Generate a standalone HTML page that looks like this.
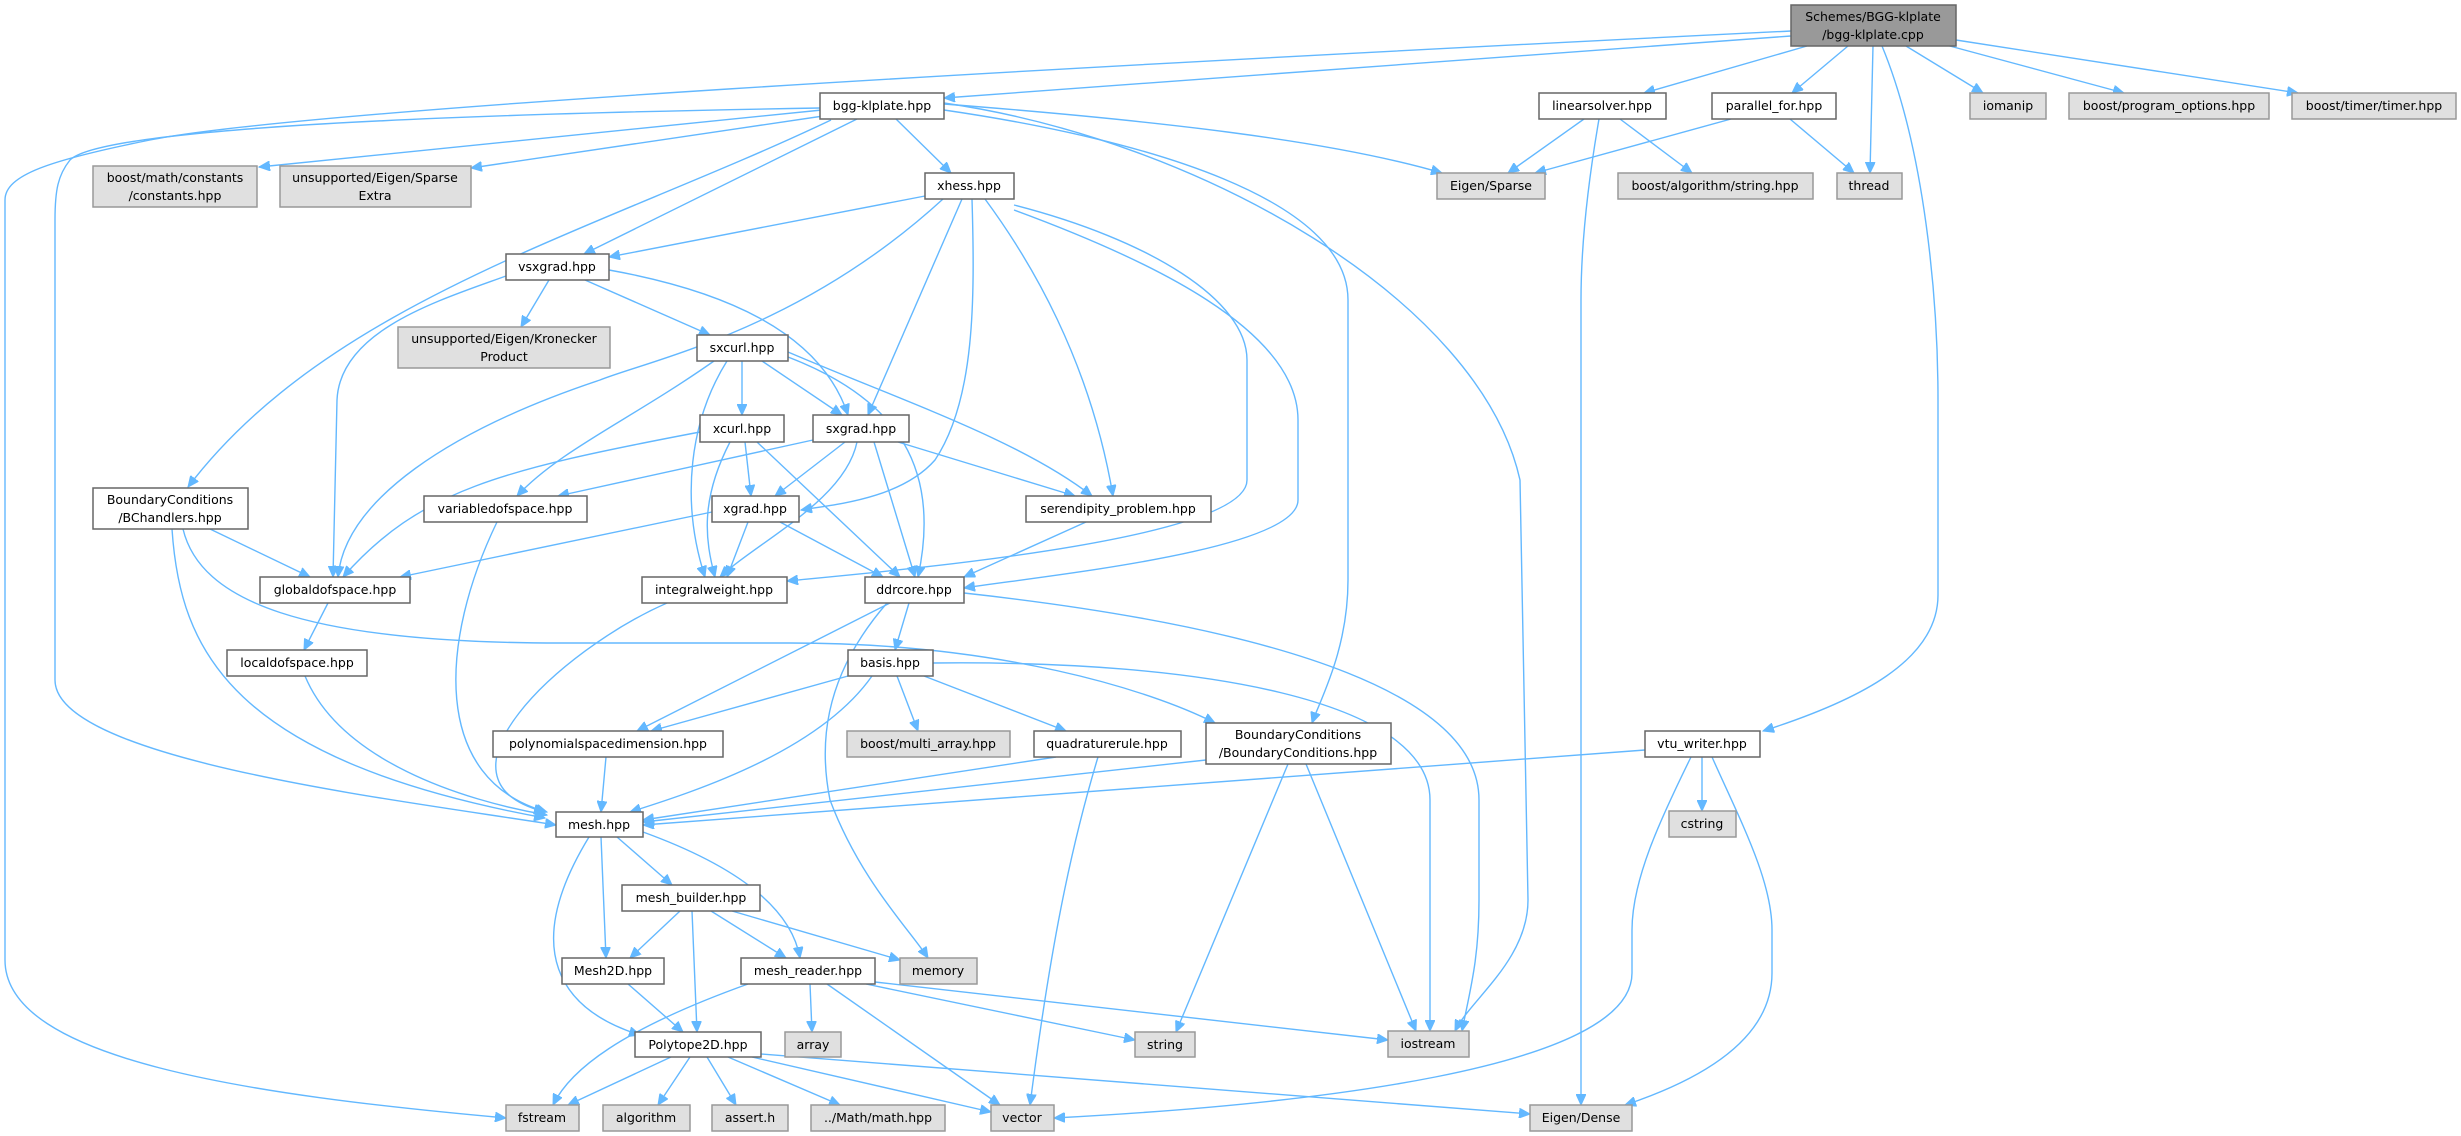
<!DOCTYPE html>
<html><head><meta charset="utf-8">
<style>
html,body{margin:0;padding:0;background:#fff;}
svg{display:block;}
text{font-family:"DejaVu Sans","Liberation Sans",sans-serif;font-size:12.5px;fill:#000;text-anchor:middle;}
.w{fill:#fff;stroke:#666;stroke-width:1.5;}
.g{fill:#e0e0e0;stroke:#999;stroke-width:1.5;}
.r{fill:#999;stroke:#666;stroke-width:1.5;}
path{fill:none;stroke:#63b8ff;stroke-width:1.4;}
</style></head><body>
<svg width="2461" height="1136" viewBox="0 0 2461 1136" xmlns="http://www.w3.org/2000/svg">
<defs><marker id="a" markerUnits="userSpaceOnUse" markerWidth="12" markerHeight="10" refX="11" refY="5" orient="auto"><path d="M0,0 L11,5 L0,10 Z" style="fill:#63b8ff;stroke:#63b8ff;stroke-width:1"/></marker></defs>
<g marker-end="url(#a)">
<path d="M1791,31 C1000,70 300,110 150,140 C50,160 5,175 5,200 L5,960 C5,1060 250,1095 506,1118"/>
<path d="M1791,36 L944,98"/>
<path d="M1807,46 L1644,93"/>
<path d="M1848,46 L1792,93"/>
<path d="M1873,46 L1870,173"/>
<path d="M1906,46 L1983,93"/>
<path d="M1946,45 L2124,93"/>
<path d="M1956,40 L2298,93"/>
<path d="M1882,46 C1925,150 1938,300 1938,400 L1938,595 C1938,660 1860,700 1763,731"/>
<path d="M822,110 L259,167"/>
<path d="M830,115 L471,168"/>
<path d="M820,108 C400,115 100,130 70,160 C58,175 55,190 55,220 L55,680 C55,760 400,800 556,825"/>
<path d="M831,120 C600,230 330,300 188,487"/>
<path d="M857,119 L584,254"/>
<path d="M896,119 L951,173"/>
<path d="M944,104 C1150,120 1330,140 1442,173"/>
<path d="M944,110 C1150,140 1348,200 1348,300 L1348,580 C1348,650 1320,700 1312,723"/>
<path d="M944,103 C1200,140 1480,300 1520,480 L1528,900 C1528,960 1470,1000 1455,1031"/>
<path d="M1584,119 L1508,173"/>
<path d="M1620,119 L1692,173"/>
<path d="M1599,119 C1585,200 1581,260 1581,300 L1581,1105"/>
<path d="M1731,119 L1535,173"/>
<path d="M1790,119 L1854,173"/>
<path d="M1645,750 L643,825"/>
<path d="M1702,757 L1702,811"/>
<path d="M1691,757 C1660,820 1632,880 1632,930 L1632,973 C1632,1070 1300,1105 1054,1118"/>
<path d="M1712,757 C1740,820 1772,880 1772,930 L1772,973 C1772,1040 1700,1080 1625,1105"/>
<path d="M925,196 L609,257"/>
<path d="M943,199 C800,330 650,360 600,380 C450,430 345,500 338,577"/>
<path d="M962,199 L868,415"/>
<path d="M972,199 C975,300 975,400 935,460 C900,500 830,505 801,510"/>
<path d="M985,199 C1030,260 1090,360 1113,496"/>
<path d="M1014,205 C1150,240 1247,300 1247,360 L1247,480 C1247,540 900,570 787,581"/>
<path d="M1014,210 C1150,260 1298,330 1298,420 L1298,500 C1298,550 1050,575 964,588"/>
<path d="M506,276 C440,300 340,330 337,400 L333,577"/>
<path d="M549,280 L521,327"/>
<path d="M585,280 L710,335"/>
<path d="M609,270 C720,290 820,330 848,415"/>
<path d="M742,361 L742,415"/>
<path d="M762,361 L842,415"/>
<path d="M714,361 C630,420 560,450 517,496"/>
<path d="M727,361 C690,420 680,500 705,577"/>
<path d="M788,357 C900,400 941,470 918,577"/>
<path d="M788,352 C900,400 1020,440 1092,496"/>
<path d="M700,432 C500,470 420,490 343,577"/>
<path d="M745,442 L751,496"/>
<path d="M730,442 C700,500 705,540 715,577"/>
<path d="M757,442 L900,577"/>
<path d="M813,440 L558,496"/>
<path d="M845,442 L775,496"/>
<path d="M857,442 C845,500 760,540 720,577"/>
<path d="M874,442 L915,577"/>
<path d="M898,442 L1075,496"/>
<path d="M210,529 L310,577"/>
<path d="M172,529 C180,650 230,760 545,818"/>
<path d="M183,529 C200,600 300,643 560,643 L790,643 C1000,643 1150,690 1215,723"/>
<path d="M497,522 C440,640 430,780 547,812"/>
<path d="M328,603 L304,650"/>
<path d="M305,676 C340,760 460,800 547,815"/>
<path d="M667,603 C560,650 420,780 545,812"/>
<path d="M712,512 L400,577"/>
<path d="M748,522 L727,577"/>
<path d="M780,522 L883,577"/>
<path d="M1086,522 L964,577"/>
<path d="M909,603 L895,650"/>
<path d="M890,603 L637,731"/>
<path d="M887,603 C820,680 820,750 830,800 C860,880 910,930 928,958"/>
<path d="M964,593 C1300,630 1479,700 1479,800 L1479,900 C1479,960 1470,990 1462,1031"/>
<path d="M848,676 L651,731"/>
<path d="M897,676 L918,731"/>
<path d="M924,676 L1066,731"/>
<path d="M872,676 C820,750 700,790 630,812"/>
<path d="M933,663 C1200,660 1430,700 1430,800 L1430,1031"/>
<path d="M606,757 L601,812"/>
<path d="M1056,757 L643,820"/>
<path d="M1098,757 C1070,850 1050,950 1030,1105"/>
<path d="M1206,760 L643,822"/>
<path d="M1288,764 L1176,1032"/>
<path d="M1306,764 L1416,1031"/>
<path d="M617,837 L672,885"/>
<path d="M601,837 L606,958"/>
<path d="M643,832 C720,860 790,900 800,958"/>
<path d="M589,837 C520,950 560,1010 640,1035"/>
<path d="M680,911 L630,958"/>
<path d="M692,911 L697,1032"/>
<path d="M711,911 L786,958"/>
<path d="M732,911 L900,960"/>
<path d="M628,984 L683,1032"/>
<path d="M748,984 C620,1030 570,1070 553,1105"/>
<path d="M810,984 L812,1032"/>
<path d="M827,984 L1000,1105"/>
<path d="M866,984 L1135,1040"/>
<path d="M875,982 L1388,1040"/>
<path d="M671,1057 L568,1105"/>
<path d="M690,1057 L658,1105"/>
<path d="M707,1057 L736,1105"/>
<path d="M728,1057 L840,1105"/>
<path d="M752,1057 L991,1112"/>
<path d="M761,1054 L1530,1114"/>
</g>
<rect class="r" x="1791" y="5" width="165" height="41"/><text x="1873" y="21">Schemes/BGG-klplate</text><text x="1873" y="39">/bgg-klplate.cpp</text>
<rect class="w" x="820" y="93" width="124" height="26"/><text x="882" y="110">bgg-klplate.hpp</text>
<rect class="w" x="1539" y="93" width="127" height="26"/><text x="1602" y="110">linearsolver.hpp</text>
<rect class="w" x="1712" y="93" width="124" height="26"/><text x="1774" y="110">parallel_for.hpp</text>
<rect class="g" x="1970" y="93" width="76" height="26"/><text x="2008" y="110">iomanip</text>
<rect class="g" x="2069" y="93" width="200" height="26"/><text x="2169" y="110">boost/program_options.hpp</text>
<rect class="g" x="2292" y="93" width="164" height="26"/><text x="2374" y="110">boost/timer/timer.hpp</text>
<rect class="g" x="93" y="166" width="164" height="41"/><text x="175" y="182">boost/math/constants</text><text x="175" y="200">/constants.hpp</text>
<rect class="g" x="280" y="166" width="191" height="41"/><text x="375" y="182">unsupported/Eigen/Sparse</text><text x="375" y="200">Extra</text>
<rect class="w" x="925" y="173" width="89" height="26"/><text x="969" y="190">xhess.hpp</text>
<rect class="g" x="1437" y="173" width="108" height="26"/><text x="1491" y="190">Eigen/Sparse</text>
<rect class="g" x="1618" y="173" width="195" height="26"/><text x="1715" y="190">boost/algorithm/string.hpp</text>
<rect class="g" x="1837" y="173" width="65" height="26"/><text x="1869" y="190">thread</text>
<rect class="w" x="506" y="254" width="103" height="26"/><text x="557" y="271">vsxgrad.hpp</text>
<rect class="g" x="398" y="327" width="212" height="41"/><text x="504" y="343">unsupported/Eigen/Kronecker</text><text x="504" y="361">Product</text>
<rect class="w" x="697" y="335" width="91" height="26"/><text x="742" y="352">sxcurl.hpp</text>
<rect class="w" x="700" y="415" width="84" height="27"/><text x="742" y="433">xcurl.hpp</text>
<rect class="w" x="813" y="415" width="96" height="27"/><text x="861" y="433">sxgrad.hpp</text>
<rect class="w" x="93" y="488" width="155" height="41"/><text x="170" y="504">BoundaryConditions</text><text x="170" y="522">/BChandlers.hpp</text>
<rect class="w" x="424" y="496" width="163" height="26"/><text x="505" y="513">variabledofspace.hpp</text>
<rect class="w" x="712" y="496" width="87" height="26"/><text x="755" y="513">xgrad.hpp</text>
<rect class="w" x="1026" y="496" width="185" height="26"/><text x="1118" y="513">serendipity_problem.hpp</text>
<rect class="w" x="260" y="577" width="150" height="26"/><text x="335" y="594">globaldofspace.hpp</text>
<rect class="w" x="642" y="577" width="145" height="26"/><text x="714" y="594">integralweight.hpp</text>
<rect class="w" x="865" y="577" width="99" height="26"/><text x="914" y="594">ddrcore.hpp</text>
<rect class="w" x="227" y="650" width="140" height="26"/><text x="297" y="667">localdofspace.hpp</text>
<rect class="w" x="848" y="650" width="85" height="26"/><text x="890" y="667">basis.hpp</text>
<rect class="w" x="493" y="731" width="230" height="26"/><text x="608" y="748">polynomialspacedimension.hpp</text>
<rect class="g" x="847" y="731" width="163" height="26"/><text x="928" y="748">boost/multi_array.hpp</text>
<rect class="w" x="1034" y="731" width="147" height="26"/><text x="1107" y="748">quadraturerule.hpp</text>
<rect class="w" x="1206" y="723" width="185" height="41"/><text x="1298" y="739">BoundaryConditions</text><text x="1298" y="757">/BoundaryConditions.hpp</text>
<rect class="w" x="1645" y="731" width="115" height="26"/><text x="1702" y="748">vtu_writer.hpp</text>
<rect class="w" x="556" y="812" width="87" height="25"/><text x="599" y="829">mesh.hpp</text>
<rect class="g" x="1669" y="811" width="67" height="26"/><text x="1702" y="828">cstring</text>
<rect class="w" x="622" y="885" width="138" height="26"/><text x="691" y="902">mesh_builder.hpp</text>
<rect class="w" x="562" y="958" width="102" height="26"/><text x="613" y="975">Mesh2D.hpp</text>
<rect class="w" x="741" y="958" width="134" height="26"/><text x="808" y="975">mesh_reader.hpp</text>
<rect class="g" x="900" y="958" width="77" height="26"/><text x="938" y="975">memory</text>
<rect class="w" x="635" y="1032" width="126" height="25"/><text x="698" y="1049">Polytope2D.hpp</text>
<rect class="g" x="785" y="1032" width="56" height="25"/><text x="813" y="1049">array</text>
<rect class="g" x="1135" y="1032" width="60" height="25"/><text x="1165" y="1049">string</text>
<rect class="g" x="1388" y="1031" width="81" height="26"/><text x="1428" y="1048">iostream</text>
<rect class="g" x="506" y="1105" width="73" height="26"/><text x="542" y="1122">fstream</text>
<rect class="g" x="603" y="1105" width="87" height="26"/><text x="646" y="1122">algorithm</text>
<rect class="g" x="712" y="1105" width="76" height="26"/><text x="750" y="1122">assert.h</text>
<rect class="g" x="811" y="1105" width="134" height="26"/><text x="878" y="1122">../Math/math.hpp</text>
<rect class="g" x="991" y="1105" width="63" height="26"/><text x="1022" y="1122">vector</text>
<rect class="g" x="1530" y="1105" width="102" height="26"/><text x="1581" y="1122">Eigen/Dense</text>
</svg>
</body></html>
